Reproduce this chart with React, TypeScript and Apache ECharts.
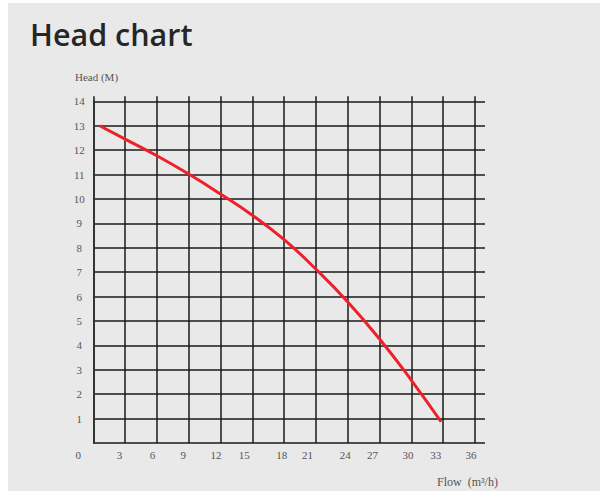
import React, { useEffect, useRef } from "react";
import * as echarts from "echarts";

// Data
const flowTicks = [0, 3, 6, 9, 12, 15, 18, 21, 24, 27, 30, 33, 36];
const headTicks = [0, 1, 2, 3, 4, 5, 6, 7, 8, 9, 10, 11, 12, 13, 14];
const flow = [0.6, 3, 6, 9, 12, 15, 18, 21, 24, 27, 30, 32.8];
const head = [13.0, 12.45, 11.77, 11.02, 10.2, 9.33, 8.33, 7.12, 5.78, 4.26, 2.57, 0.87];

// label nudges (px of right padding) to mimic the reference's offset tick labels
const xLabelPad = [30, 11, 9, 11, 9, 16, 5, 17, 5, 14, 7, 15, 8];

const SERIF = "'Liberation Serif', 'DejaVu Serif', serif";
const LABEL_COLOR = "#555";
const GRID_COLOR = "#1a1a1a";

export default function App() {
  const ref = useRef<HTMLDivElement>(null);
  useEffect(() => {
    if (!ref.current) return;
    const chart = echarts.init(ref.current, null, { renderer: "svg" });

    const rich: Record<string, any> = {};
    xLabelPad.forEach((p) => {
      rich["p" + p] = {
        padding: [0, p, 0, 0],
        fontFamily: SERIF,
        fontSize: 11,
        color: LABEL_COLOR,
      };
    });

    const left = 93.3;
    const top = 101.3;
    const plotW = 381.7;
    const plotH = 341.7;

    chart.setOption({
      animation: false,
      backgroundColor: "#ffffff",
      graphic: [
        {
          type: "rect",
          z: -10,
          silent: true,
          shape: { x: 8, y: 3, width: 592, height: 488 },
          style: { fill: "#e9e9e9" },
        },
        {
          type: "text",
          x: 30,
          y: 34,
          style: {
            text: "Head chart",
            fontFamily: "'Open Sans', 'Noto Sans', sans-serif",
            fontSize: 30.5,
            fontWeight: 600,
            fill: "#262626",
            textVerticalAlign: "middle",
          },
        },
        {
          type: "text",
          x: 75,
          y: 76.7,
          style: {
            text: "Head (M)",
            fontFamily: SERIF,
            fontSize: 11,
            fill: LABEL_COLOR,
            textVerticalAlign: "middle",
          },
        },
        {
          type: "text",
          x: 437,
          y: 481.7,
          style: {
            text: "Flow  (m³/h)",
            fontFamily: SERIF,
            fontSize: 12,
            fill: LABEL_COLOR,
            textVerticalAlign: "middle",
          },
        },
      ],
      grid: [
        // 0: series grid
        { left, top, width: plotW, height: plotH },
        // 1: horizontal lines (extend to the right)
        { left, top, width: plotW + 10, height: plotH },
        // 2: vertical lines (extend above)
        { left, top: top - 5, width: plotW, height: plotH + 5 },
      ],
      xAxis: [
        {
          gridIndex: 0,
          type: "value",
          min: flowTicks[0],
          max: flowTicks[flowTicks.length - 1],
          interval: 3,
          show: false,
        },
        {
          gridIndex: 1,
          type: "value",
          min: 0,
          max: 1,
          show: false,
        },
        {
          gridIndex: 2,
          type: "value",
          min: flowTicks[0],
          max: flowTicks[flowTicks.length - 1],
          interval: 3,
          axisLine: { show: false },
          axisTick: { show: false },
          splitLine: { show: true, lineStyle: { color: GRID_COLOR, width: 1.5 } },
          axisLabel: {
            margin: 6,
            formatter: (v: number) => {
              const i = flowTicks.indexOf(v);
              if (i < 0) return "";
              return "{p" + xLabelPad[i] + "|" + v + "}";
            },
            rich,
          },
        },
      ],
      yAxis: [
        {
          gridIndex: 0,
          type: "value",
          min: headTicks[0],
          max: headTicks[headTicks.length - 1],
          interval: 1,
          show: false,
        },
        {
          gridIndex: 1,
          type: "value",
          min: headTicks[0],
          max: headTicks[headTicks.length - 1],
          interval: 1,
          axisLine: { show: true, lineStyle: { color: "#333", width: 2 } },
          axisTick: { show: false },
          splitLine: { show: true, lineStyle: { color: GRID_COLOR, width: 1.5 } },
          axisLabel: {
            align: "center",
            margin: 14,
            padding: [4, 0, 0, 0],
            fontFamily: SERIF,
            fontSize: 11,
            color: LABEL_COLOR,
            formatter: (v: number) => (v === 0 ? "" : String(v)),
          },
        },
        {
          gridIndex: 2,
          type: "value",
          min: 0,
          max: 1,
          show: false,
        },
      ],
      series: [
        {
          type: "line",
          xAxisIndex: 0,
          yAxisIndex: 0,
          data: flow.map((f, i) => [f, head[i]]),
          smooth: true,
          showSymbol: false,
          symbol: "none",
          lineStyle: { color: "#ee2029", width: 3 },
          z: 10,
        },
      ],
    });

    return () => chart.dispose();
  }, []);

  return (
    <div
      ref={ref}
      style={{ position: "absolute", left: 0, top: 0, width: 606, height: 491 }}
    />
  );
}
